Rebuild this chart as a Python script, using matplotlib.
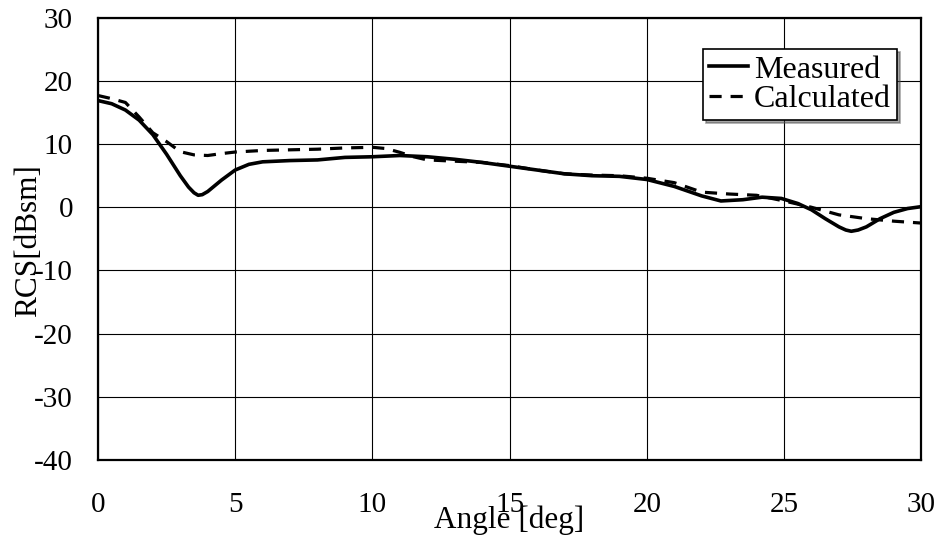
import numpy as np
import matplotlib.pyplot as plt

plt.rcParams['font.family'] = ['Liberation Serif', 'DejaVu Serif']
plt.rcParams['axes.unicode_minus'] = False

# Data
angMeas = [0, 0.5, 1.0, 1.5, 2.0, 2.5, 3.0, 3.3, 3.5, 3.65, 3.8, 4.0, 4.5, 5.0, 5.5, 6.0,
           7.0, 8.0, 9.0, 10.0, 11.0, 12.0, 13.0, 14.0, 15.0, 16.0, 17.0, 18.0,
           19.0, 20.0, 21.0, 22.0, 22.7, 23.5, 24.2, 24.9, 25.5, 26.0, 26.5,
           27.0, 27.25, 27.45, 27.7, 28.0, 28.5, 29.0, 29.5, 30.0]
rcsMeas = [16.9, 16.4, 15.4, 13.8, 11.5, 8.4, 5.0, 3.2, 2.3, 1.9, 2.0, 2.5, 4.3, 5.9, 6.8, 7.2,
           7.4, 7.5, 7.9, 8.0, 8.2, 8.0, 7.6, 7.1, 6.5, 5.9, 5.3, 5.0,
           4.9, 4.4, 3.3, 1.8, 1.0, 1.2, 1.6, 1.4, 0.6, -0.4, -1.8,
           -3.1, -3.6, -3.8, -3.6, -3.1, -1.8, -0.8, -0.2, 0.1]

angCalc = [0, 0.5, 1.0, 1.5, 2.0, 2.5, 3.0, 3.5, 4.0, 4.5, 5.0, 6.0, 7.0, 8.0,
           9.0, 10.0, 10.5, 11.0, 11.5, 12.0, 13.0, 14.0, 15.0, 16.0, 17.0,
           18.0, 19.0, 20.0, 21.0, 22.0, 23.0, 24.0, 25.0, 26.0, 27.0, 28.0,
           29.0, 30.0]
rcsCalc = [17.7, 17.2, 16.6, 14.3, 11.8, 10.4, 8.8, 8.3, 8.2, 8.5, 8.75, 9.0, 9.1, 9.2,
           9.4, 9.5, 9.3, 8.7, 8.0, 7.5, 7.3, 7.1, 6.6, 5.9, 5.3,
           5.1, 5.0, 4.6, 3.9, 2.4, 2.1, 1.9, 1.0, 0.0, -1.2, -1.8,
           -2.2, -2.5]

xticks = [0, 5, 10, 15, 20, 25, 30]
yticks = [-40, -30, -20, -10, 0, 10, 20, 30]

# ================ Plot =================== #
fig = plt.figure(figsize=(9.42, 5.41), dpi=100)
ax = fig.add_axes([0.104, 0.150, 0.874, 0.817])

ax.plot(angMeas, rcsMeas, color="black", linewidth=2.6, label="Measured")
ax.plot(angCalc, rcsCalc, color="black", linewidth=2.3, linestyle=(0, (3.8, 2.8)),
        label="Calculated")

ax.set_xlim(0, 30)
ax.set_ylim(-40, 30)
ax.set_xticks(xticks)
ax.set_yticks(yticks)
ax.grid(True, color="black", linewidth=0.8)
ax.tick_params(length=0, labelsize=21)
ax.tick_params(axis="x", pad=23)
ax.tick_params(axis="y", pad=18)
for s in ax.spines.values():
    s.set_linewidth(1.6)

ax.set_xlabel("Angle [deg]", fontsize=22.5)
ax.xaxis.set_label_coords(0.5, -0.136)
ax.xaxis.label.set_verticalalignment("center")
ax.set_ylabel("RCS[dBsm]", fontsize=22.5)
ax.yaxis.set_label_coords(-0.084, 0.495)
ax.yaxis.label.set_verticalalignment("center")

leg = ax.legend(loc="upper right", bbox_to_anchor=(0.971, 0.930), fontsize=23,
                fancybox=False, shadow=True, framealpha=1, edgecolor="black",
                borderaxespad=0, handlelength=1.2, handletextpad=0.2,
                labelspacing=0.0, borderpad=0.2)
leg.get_frame().set_linewidth(1.2)

fig.savefig("out.png", dpi=100)
